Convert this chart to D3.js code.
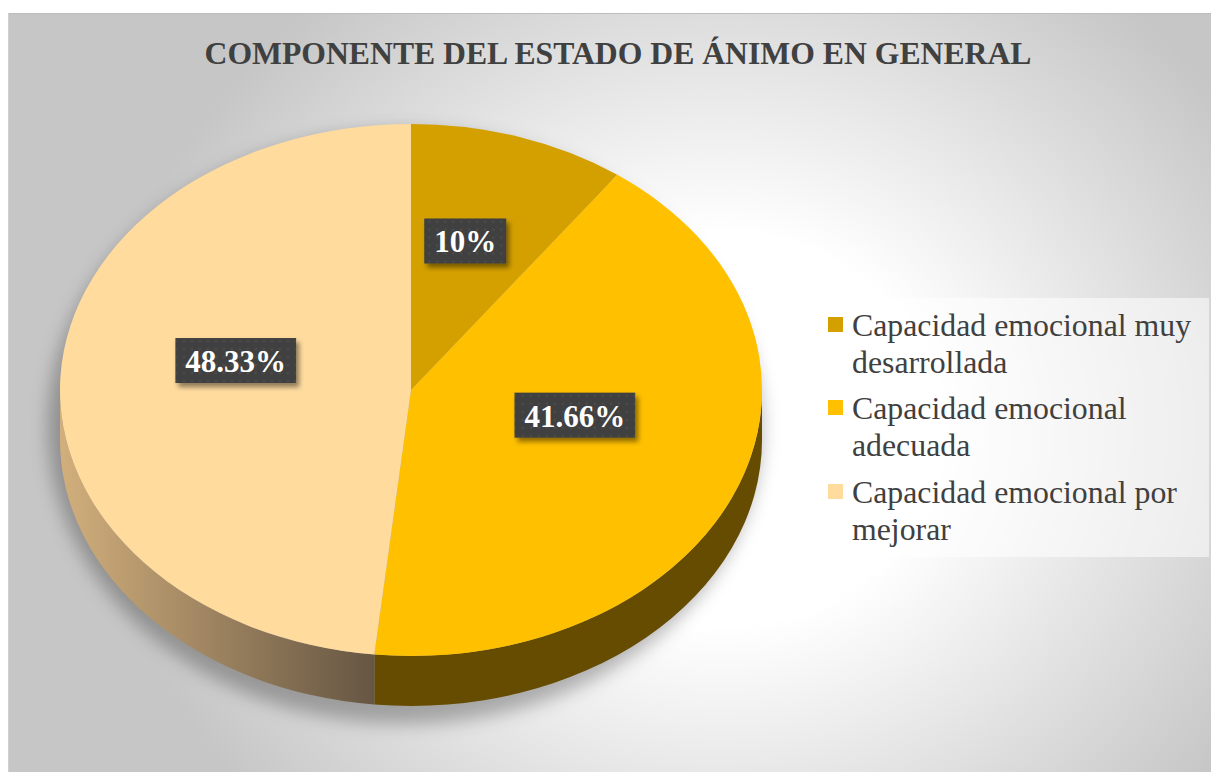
<!DOCTYPE html>
<html>
<head>
<meta charset="utf-8">
<script src="https://cdn.jsdelivr.net/npm/d3@7"></script>
<style>
  body { margin: 0; background: #fff; }
  .title { font-family: "Liberation Serif", "Times New Roman", serif; font-weight: bold; fill: #404040; }
  .legend-text { font-family: "Liberation Serif", "Times New Roman", serif; fill: #404040; }
  .pie-label { font-family: "Liberation Serif", "Times New Roman", serif; font-weight: bold; fill: #fff; }
</style>
</head>
<body>
<div id="chart"></div>
<script>
// Data
var categories = ["Capacidad emocional muy desarrollada", "Capacidad emocional adecuada", "Capacidad emocional por mejorar"];
var values = [10, 41.66, 48.33];
var labels = ["10%", "41.66%", "48.33%"];
var titleText = "COMPONENTE DEL ESTADO DE ÁNIMO EN GENERAL";

var topColors = ["#D4A000", "#FFC000", "#FFDB9E"];
var sideColors = ["#6A5000", "#664C00", "url(#side-light)"];

var width = 1211, height = 772;

var svg = d3.select("#chart").append("svg")
  .attr("width", width)
  .attr("height", height);

var defs = svg.append("defs");

// background gradient (elliptical, light in the middle)
var bg = defs.append("radialGradient")
  .attr("id", "bg-grad")
  .attr("gradientUnits", "userSpaceOnUse")
  .attr("cx", 0).attr("cy", 0).attr("r", 1)
  .attr("gradientTransform", "translate(720,430) scale(620,560)");
bg.append("stop").attr("offset", "0%").attr("stop-color", "#ffffff");
bg.append("stop").attr("offset", "35%").attr("stop-color", "#ffffff");
bg.append("stop").attr("offset", "100%").attr("stop-color", "#c6c6c6");

// side gradient for the light slice
var sg = defs.append("linearGradient")
  .attr("id", "side-light")
  .attr("gradientUnits", "userSpaceOnUse")
  .attr("x1", 60).attr("y1", 0).attr("x2", 372).attr("y2", 0);
sg.append("stop").attr("offset", "0%").attr("stop-color", "#D2AF7C");
sg.append("stop").attr("offset", "100%").attr("stop-color", "#665643");

// blur for the pie shadow
defs.append("filter").attr("id", "pie-shadow")
  .attr("x", "-20%").attr("y", "-20%").attr("width", "140%").attr("height", "140%")
  .append("feGaussianBlur").attr("stdDeviation", 9);

// label box shadow
var ls = defs.append("filter").attr("id", "label-shadow")
  .attr("x", "-20%").attr("y", "-20%").attr("width", "150%").attr("height", "160%");
ls.append("feDropShadow").attr("dx", 3).attr("dy", 4).attr("stdDeviation", 2.5)
  .attr("flood-color", "#000").attr("flood-opacity", 0.45);

// dotted texture for label boxes
var pat = defs.append("pattern").attr("id", "dots")
  .attr("width", 8).attr("height", 8).attr("patternUnits", "userSpaceOnUse");
pat.append("rect").attr("width", 8).attr("height", 8).attr("fill", "#3f3f3f");
pat.append("circle").attr("cx", 4).attr("cy", 4).attr("r", 1.6).attr("fill", "#4a4a4a");

// Chart frame
svg.append("rect")
  .attr("x", 8).attr("y", 13)
  .attr("width", width - 8).attr("height", height - 13)
  .attr("fill", "url(#bg-grad)");
svg.append("line")
  .attr("x1", 8).attr("x2", width).attr("y1", 13.5).attr("y2", 13.5)
  .attr("stroke", "#bdbdbd");
svg.append("line")
  .attr("x1", 8.5).attr("x2", 8.5).attr("y1", 13).attr("y2", height)
  .attr("stroke", "#d0d0d0");

// Title
svg.append("text")
  .attr("class", "title")
  .attr("x", 618)
  .attr("y", 64)
  .attr("text-anchor", "middle")
  .style("font-size", "31.7px")
  .text(titleText);

///////////////////////////// 3D pie /////////////////////////////

var cx = 411, cy = 390, rx = 351, ry = 266, depth = 50;

var pie = d3.pie().sort(null).value(function(d) { return d; });
var arcs = pie(values);

var color = d3.scaleOrdinal().domain(categories).range(topColors);

function pt(a, dy) {
  return [cx + rx * Math.sin(a), cy - ry * Math.cos(a) + (dy || 0)];
}

function topPath(d) {
  var p0 = pt(d.startAngle), p1 = pt(d.endAngle);
  var large = (d.endAngle - d.startAngle) > Math.PI ? 1 : 0;
  return "M" + cx + "," + cy + "L" + p0 + "A" + rx + "," + ry + " 0 " + large + " 1 " + p1 + "Z";
}

function sidePath(d) {
  var s = Math.max(d.startAngle, Math.PI / 2);
  var e = Math.min(d.endAngle, 3 * Math.PI / 2);
  if (s >= e) return null;
  return "M" + pt(s) + "A" + rx + "," + ry + " 0 0 1 " + pt(e) +
    "L" + pt(e, depth) + "A" + rx + "," + ry + " 0 0 0 " + pt(s, depth) + "Z";
}

// soft shadow under the pie
var shadow = svg.append("g").attr("filter", "url(#pie-shadow)");
shadow.append("ellipse")
  .attr("cx", cx - 6).attr("cy", cy + depth / 2 + 12)
  .attr("rx", rx + 6).attr("ry", ry + depth / 2 + 6)
  .attr("fill", "#000").attr("opacity", 0.28);

var pieG = svg.append("g").attr("class", "pie");

pieG.selectAll(".side")
  .data(arcs.filter(function(d) { return sidePath(d) !== null; }))
  .enter().append("path")
  .attr("class", "side")
  .attr("d", sidePath)
  .attr("fill", function(d) { return sideColors[d.index]; });

pieG.selectAll(".top")
  .data(arcs)
  .enter().append("path")
  .attr("class", "top")
  .attr("d", topPath)
  .attr("fill", function(d) { return color(categories[d.index]); });

// labels
var labelG = svg.selectAll(".label")
  .data(arcs)
  .enter().append("g")
  .attr("class", "label")
  .attr("transform", function(d) {
    var a = (d.startAngle + d.endAngle) / 2;
    var x = cx + rx * 0.5 * Math.sin(a);
    var y = cy - ry * 0.5 * Math.cos(a) - 22;
    return "translate(" + x + "," + y + ")";
  });

labelG.each(function(d) {
  var g = d3.select(this);
  var t = g.append("text")
    .attr("class", "pie-label")
    .attr("text-anchor", "middle")
    .attr("dy", "0.35em")
    .style("font-size", "31px")
    .text(labels[d.index]);
  var w = t.node().getComputedTextLength() + 20;
  g.insert("rect", "text")
    .attr("x", -w / 2).attr("y", -23)
    .attr("width", w).attr("height", 45)
    .attr("fill", "url(#dots)")
    .attr("filter", "url(#label-shadow)");
});

///////////////////////////// Legend /////////////////////////////

var legend = svg.append("g").attr("class", "legend");
legend.append("rect")
  .attr("x", 812).attr("y", 298)
  .attr("width", 397).attr("height", 259)
  .attr("fill", "#ffffff").attr("opacity", 0.55);

var itemY = [336, 419, 503];
var lineH = 36.5;

categories.forEach(function(c, i) {
  legend.append("rect")
    .attr("x", 828).attr("y", itemY[i] - 19)
    .attr("width", 15).attr("height", 15)
    .attr("fill", color(c));

  var t = legend.append("text")
    .attr("class", "legend-text")
    .attr("x", 852).attr("y", itemY[i])
    .style("font-size", "31.8px");

  // wrap words
  var words = c.split(" "), line = [];
  var tspan = t.append("tspan").attr("x", 852).attr("dy", 0);
  words.forEach(function(w) {
    line.push(w);
    tspan.text(line.join(" "));
    if (tspan.node().getComputedTextLength() > 350 && line.length > 1) {
      line.pop();
      tspan.text(line.join(" "));
      line = [w];
      tspan = t.append("tspan").attr("x", 852).attr("dy", lineH).text(w);
    }
  });
});
</script>
</body>
</html>
